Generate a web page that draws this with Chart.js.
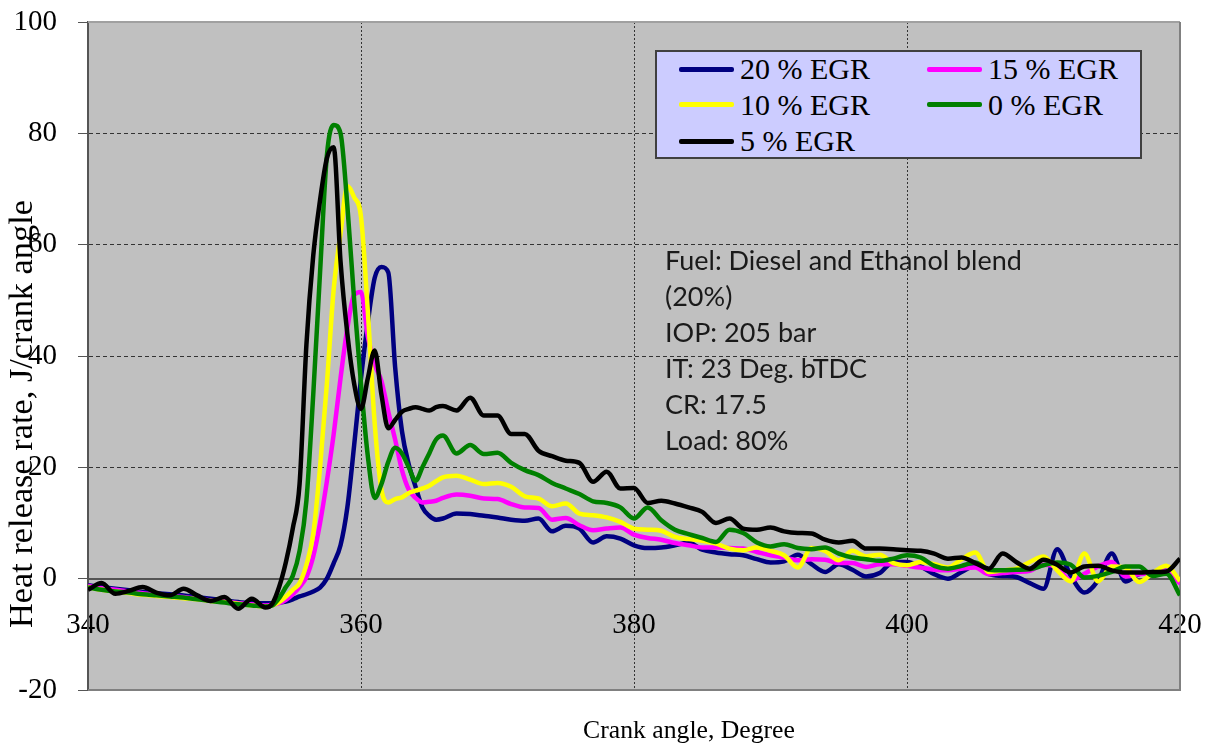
<!DOCTYPE html>
<html>
<head>
<meta charset="utf-8">
<script src="https://cdn.jsdelivr.net/npm/chart.js@4.4.1/dist/chart.umd.min.js"></script>
<style>
html,body{margin:0;padding:0;background:#fff;}
#wrap{position:relative;width:1218px;height:745px;}
#chart{display:block;}
#legend{position:absolute;left:655px;top:50px;width:487px;height:109px;box-sizing:border-box;
  background:#ccccff;border:2px solid #404040;display:grid;grid-template-columns:248px 213px;
  grid-template-rows:34px 37px 36px;padding:0 0 0 22px;}
.li{display:flex;align-items:center;font:30px 'Liberation Serif',serif;color:#000;white-space:nowrap;}
.li span.sw{display:inline-block;width:55px;height:5px;border-radius:2px;margin-right:6px;}
</style>
</head>
<body>
<div id="wrap">
<canvas id="chart" width="1218" height="745"></canvas>
<div id="legend"></div>
</div>
<script>
// ---------- data ----------
const crank = [340,341,342,343,344,345,346,347,348,349,350,351,352,353,
 353.5,354,354.5,355,355.5,356,356.5,357,357.5,358,358.5,359,359.5,360,360.5,361,361.5,362,362.5,363,363.5,364,364.5,365,365.5,366,
 367,368,369,370,371,372,373,374,375,376,377,378,379,380,381,382,383,384,385,386,387,388,389,390,
 391,392,393,394,395,396,397,398,399,400,401,402,403,404,405,406,407,408,409,410,
 411,412,413,414,415,416,417,418,419,420];

const egr20 = [-1.2,-1.5,-1.8,-2.1,-2.4,-2.6,-2.8,-3.0,-3.3,-3.6,-3.9,-4.2,-4.4,-4.4,
 -4.4,-4.3,-4.1,-3.7,-3.2,-2.8,-2.3,-1.6,0.0,2.8,6.0,12.8,24.0,36.0,46.0,54.0,56.0,55.0,38.0,26.5,20.5,16.5,12.8,11.3,10.6,10.8,
 11.7,11.6,11.3,11.0,10.6,10.4,10.8,8.5,9.5,9.0,6.5,7.6,7.2,6.0,5.5,5.6,6.0,6.5,5.2,4.7,4.4,4.2,3.5,2.9,
 3.1,4.3,2.6,1.2,2.6,1.6,0.4,1.0,3.0,3.0,2.2,0.8,0.0,1.2,2.3,0.8,0.5,0.3,-0.8,-1.8,
 5.3,0.5,-2.5,-0.3,4.5,-0.5,0.8,1.2,1.4,-0.7];

const egr15 = [-1.3,-1.7,-2.0,-2.3,-2.6,-2.9,-3.1,-3.3,-3.6,-3.9,-4.1,-4.4,-4.6,-4.8,
 -4.7,-4.4,-3.8,-2.8,-1.5,0.3,4.0,10.0,17.5,26.0,36.0,45.0,51.0,51.5,43.5,38.5,35.5,30.0,25.0,19.5,16.0,14.5,13.7,13.8,14.0,14.5,
 15.1,14.9,14.4,14.3,13.4,12.8,12.7,10.6,10.9,9.6,8.7,9.0,9.2,7.9,7.3,7.0,6.4,6.0,5.6,5.6,5.5,5.4,4.8,4.2,
 3.8,3.3,3.5,3.4,2.8,2.8,2.1,2.6,2.6,2.3,2.0,1.6,1.5,1.8,2.0,0.8,1.0,1.2,1.4,2.5,
 2.0,-0.3,0.9,2.2,3.0,0.4,0.8,1.1,1.4,-0.9];

const egr10 = [-1.5,-2.0,-2.3,-2.6,-2.9,-3.1,-3.3,-3.5,-3.7,-4.0,-4.2,-4.5,-4.8,-5.0,
 -4.8,-4.2,-3.2,-2.0,-0.8,2.5,8.0,20.0,35.0,52.0,62.0,70.5,68.5,65.0,48.0,28.0,16.0,13.7,14.3,14.6,15.4,15.8,16.2,16.7,17.5,18.2,
 18.5,17.8,17.0,17.2,16.5,14.8,14.4,13.0,13.5,11.7,11.4,11.0,10.2,9.0,8.8,8.6,7.5,7.1,6.8,6.3,5.4,5.1,5.6,5.0,
 4.2,2.0,5.5,5.0,3.3,5.0,4.0,4.3,2.8,2.4,3.0,2.6,2.0,3.5,4.7,1.2,1.5,1.8,3.0,4.0,
 1.5,-0.5,4.5,-0.5,2.2,2.0,-0.6,1.0,2.3,-0.4];

const egr0 = [-1.6,-2.0,-2.3,-2.5,-2.8,-3.0,-3.2,-3.4,-3.7,-4.0,-4.3,-4.6,-4.8,-5.0,
 -4.8,-3.5,-1.5,0.5,5.0,14.0,33.0,55.0,76.0,81.5,80.0,67.0,50.0,35.0,22.0,14.5,17.0,21.0,23.5,22.5,20.0,17.6,20.0,22.5,25.0,25.7,
 22.5,24.0,22.4,22.6,20.8,19.5,18.6,17.2,16.2,15.2,13.9,13.6,12.8,10.8,12.8,10.5,8.8,8.0,7.3,6.6,8.8,8.2,6.5,5.8,
 6.2,5.5,5.3,5.6,4.5,3.8,3.5,3.2,3.6,4.2,3.8,2.3,1.8,2.3,2.9,1.6,1.5,1.6,1.7,2.4,
 2.9,2.5,0.2,0.5,1.2,2.2,2.2,0.5,0.9,-3.0];

const egr5 = [-2.0,-0.8,-2.7,-2.2,-1.5,-2.5,-3.0,-1.8,-3.0,-4.0,-3.3,-5.4,-3.6,-5.2,
 -4.5,-1.5,3.0,9.0,17.0,42.0,58.0,68.0,75.5,77.5,57.0,44.0,35.0,30.5,36.0,41.0,33.0,27.0,28.5,30.0,30.5,30.8,30.5,30.2,30.8,31.0,
 30.2,32.5,29.3,29.3,26.0,26.0,23.0,22.0,21.2,20.8,17.4,19.2,16.2,16.3,13.6,14.0,13.5,12.8,12.0,10.0,10.8,9.0,8.8,9.2,
 8.5,8.2,8.1,7.0,6.5,6.8,5.4,5.4,5.3,5.1,5.0,4.5,3.6,3.8,2.8,1.8,4.5,3.0,1.8,3.4,
 2.5,1.1,2.2,2.3,1.5,1.1,1.1,1.2,1.3,3.6];

const seriesLabels = ['20 % EGR','15 % EGR','10 % EGR','0 % EGR','5 % EGR'];
const seriesValues = [egr20, egr15, egr10, egr0, egr5];
const seriesColors = ['#000080','#ff00ff','#ffff00','#008000','#000000'];
const drawOrder = [4,3,2,1,0]; // black on top

const yTicks = [-20,0,20,40,60,80,100];
const xTicks = [340,360,380,400,420];
const xTitle = 'Crank angle, Degree';
const yTitle = 'Heat release rate, J/crank angle';
const noteLines = ['Fuel: Diesel and Ethanol blend','(20%)','IOP: 205 bar','IT: 23 Deg. bTDC','CR: 17.5','Load: 80%'];

// ---------- chart ----------
const datasets = seriesLabels.map((lab,i)=>({
  label: lab,
  data: crank.map((x,k)=>({x:x, y:seriesValues[i][k]})),
  borderColor: seriesColors[i],
  backgroundColor: seriesColors[i],
  borderWidth: 4.5,
  pointRadius: 0,
  cubicInterpolationMode: 'monotone',
  order: drawOrder[i],
  fill: false
}));

function fitFont(ctx, text, family, target, base){
  ctx.font = base + 'px ' + family;
  const w = ctx.measureText(text).width;
  return base * target / w;
}

const decorPlugin = {
  id: 'decor',
  beforeDraw(chart){
    const {ctx, chartArea:a} = chart;
    ctx.save();
    ctx.fillStyle = '#c0c0c0';
    ctx.fillRect(a.left, a.top, a.right-a.left, a.bottom-a.top);
    ctx.restore();
  },
  beforeDatasetsDraw(chart){
    const {ctx, chartArea:a} = chart;
    ctx.save();
    ctx.lineWidth = 2;
    ctx.strokeStyle = '#a0a0a0';
    ctx.beginPath(); ctx.moveTo(a.left, a.top); ctx.lineTo(a.right, a.top); ctx.stroke();
    ctx.strokeStyle = '#808080';
    ctx.beginPath(); ctx.moveTo(a.right, a.top); ctx.lineTo(a.right, a.bottom); ctx.lineTo(a.left, a.bottom); ctx.stroke();
    ctx.restore();
  },
  afterDraw(chart){
    const {ctx} = chart;
    ctx.save();
    // x title
    let fs = fitFont(ctx, xTitle, "'Liberation Serif'", 212, 26);
    ctx.font = fs + "px 'Liberation Serif'";
    ctx.fillStyle = '#000';
    ctx.textAlign = 'center';
    ctx.textBaseline = 'alphabetic';
    ctx.fillText(xTitle, 689, 738);
    // y title
    fs = fitFont(ctx, yTitle, "'Liberation Serif'", 428, 28);
    ctx.font = fs + "px 'Liberation Serif'";
    ctx.translate(32, 414);
    ctx.rotate(-Math.PI/2);
    ctx.fillText(yTitle, 0, 0);
    ctx.restore();
    // note text
    ctx.save();
    fs = fitFont(ctx, noteLines[0], 'Lato', 357, 23);
    ctx.font = fs + 'px Lato';
    ctx.fillStyle = '#1a1a1a';
    ctx.textAlign = 'left';
    ctx.textBaseline = 'alphabetic';
    noteLines.forEach((t,i)=>ctx.fillText(t, 665, 270 + i*36));
    ctx.restore();
  }
};

const htmlLegend = {
  id: 'htmlLegend',
  afterUpdate(chart){
    const box = document.getElementById('legend');
    box.innerHTML = '';
    chart.data.datasets.forEach(ds=>{
      const it = document.createElement('div');
      it.className = 'li';
      const sw = document.createElement('span');
      sw.className = 'sw';
      sw.style.background = ds.borderColor;
      it.appendChild(sw);
      it.appendChild(document.createTextNode(ds.label));
      box.appendChild(it);
    });
  }
};

const edgeY = v => v === 100 || v === -20 || v === 0;
const edgeX = v => v === 340 || v === 420;

new Chart(document.getElementById('chart'), {
  type: 'line',
  data: { datasets },
  options: {
    responsive: false,
    animation: false,
    layout: { padding: { top: 22, right: 38, bottom: 55, left: 0 } },
    plugins: { legend: { display: false }, tooltip: { enabled: false }, title: { display: false } },
    scales: {
      x: {
        type: 'linear',
        min: 340, max: 420,
        position: { y: 0 },
        afterFit: s => { s.paddingLeft = 0; s.paddingRight = 0; },
        afterBuildTicks: s => { s.ticks = xTicks.map(v=>({value:v})); },
        ticks: { font: { family: "'Liberation Serif'", size: 29 }, color: '#000', padding: 29, maxRotation: 0 },
        grid: {
          drawTicks: false,
          color: c => edgeX(c.tick.value) ? 'rgba(0,0,0,0)' : '#333',
          lineWidth: 1
        },
        border: { display: true, color: '#555', width: 2, dash: [2,2] }
      },
      y: {
        type: 'linear',
        min: -20, max: 100,
        afterFit: s => { s.width = 88; s.paddingTop = 0; s.paddingBottom = 0; },
        afterBuildTicks: s => { s.ticks = yTicks.map(v=>({value:v})); },
        ticks: { font: { family: "'Liberation Serif'", size: 29 }, color: '#000', padding: 21 },
        grid: {
          color: c => edgeY(c.tick.value) ? 'rgba(0,0,0,0)' : '#333',
          tickColor: '#555',
          tickLength: 10,
          lineWidth: 1
        },
        border: { display: true, color: '#555', width: 2, dash: [4,3] }
      }
    }
  },
  plugins: [decorPlugin, htmlLegend]
});
</script>
</body>
</html>
